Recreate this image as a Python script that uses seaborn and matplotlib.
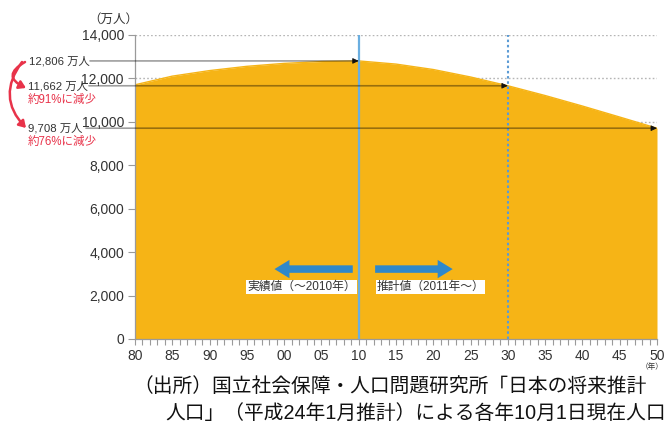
import numpy as np
import pandas as pd
import matplotlib
matplotlib.use("Agg")
import matplotlib.pyplot as plt
import matplotlib.transforms as mtransforms
from matplotlib.patches import FancyArrowPatch
import seaborn as sns

# Total population of Japan (10,000 persons), 1 October each year
years = [1980, 1985, 1990, 1995, 2000, 2005, 2010,
         2015, 2020, 2025, 2030, 2035, 2040, 2045, 2050]
population = [11706, 12105, 12361, 12557, 12693, 12777, 12806,
              12660, 12410, 12066, 11662, 11212, 10728, 10221, 9708]

y_ticks = [0, 2000, 4000, 6000, 8000, 10000, 12000, 14000]
y_tick_labels = ["0", "2,000", "4,000", "6,000", "8,000", "10,000", "12,000", "14,000"]
x_major = list(range(1980, 2051, 5))
x_tick_labels = ["80", "85", "90", "95", "00", "05", "10", "15", "20",
                 "25", "30", "35", "40", "45", "50"]

# Highlighted points: value, year, label, share of 2010 level
marks_years = [2010, 2030, 2050]
marks_values = [12806, 11662, 9708]
marks_labels = ["12,806 万人", "11,662 万人", "9,708 万人"]
marks_notes = ["", "約91%に減少", "約76%に減少"]

actual_label = "実績値（～2010年）"
projected_label = "推計値（2011年～）"
caption_1 = "（出所）国立社会保障・人口問題研究所「日本の将来推計"
caption_2 = "人口」（平成24年1月推計）による各年10月1日現在人口"

sns.set_theme(style="white")
plt.rcParams["font.family"] = ["Liberation Sans", "Noto Sans CJK JP", "DejaVu Sans"]

AREA = "#F6B416"
BLUE = "#2F88CA"
RED = "#E8334A"
TXT = "#333333"

df = pd.DataFrame({"year": years, "pop": population})

fig = plt.figure(figsize=(6.7, 4.26), dpi=100)
ax = fig.add_axes([135 / 670, 1 - 339 / 426, 522 / 670, 304 / 426])

# dotted gridlines behind the area
for yv in y_ticks[1:]:
    ax.axhline(yv, color="#b5b5b5", lw=1.0, ls=(0, (1.2, 1.6)), zorder=0)

ax.fill_between(df["year"], 0, df["pop"], color=AREA, lw=0, zorder=1)
sns.lineplot(data=df, x="year", y="pop", ax=ax, color=AREA, lw=1.0, zorder=2)

# boundary between actual and projected values
ax.plot([2010, 2010], [0, 14000], color="#6AAEE0", lw=1.6, zorder=3)
ax.plot([2030, 2030], [0, 14000], color="#5B9BD5", lw=1.5, ls=(0, (1.2, 1.3)), zorder=3)

ax.set_xlim(1980, 2050)
ax.set_ylim(0, 14000)
ax.set_xticks(x_major)
ax.set_xticklabels(x_tick_labels)
ax.set_xticks(range(1980, 2051), minor=True)
ax.set_yticks(y_ticks)
ax.set_yticklabels(y_tick_labels)
ax.set_xlabel("")
ax.set_ylabel("")
ax.tick_params(axis="x", which="both", direction="out", length=4, width=0.8,
               color="#9a9a9a", labelsize=10, labelcolor=TXT, pad=3, bottom=True)
ax.tick_params(axis="y", which="major", direction="out", length=5, width=0.8,
               color="#9a9a9a", labelsize=10, labelcolor=TXT, pad=3, left=True)
for side in ["top", "right"]:
    ax.spines[side].set_visible(False)
for side in ["left", "bottom"]:
    ax.spines[side].set_color("#9a9a9a")
    ax.spines[side].set_linewidth(0.9)
    ax.spines[side].set_zorder(4)

# reference lines from the left labels to each highlighted point
blend = mtransforms.blended_transform_factory(fig.transFigure, ax.transData)
line_starts = [90 / 670, 89 / 670, 86 / 670]
for yr, val, start in zip(marks_years, marks_values, line_starts):
    ax.annotate("", xy=(yr - 0.3, val), xycoords="data",
                xytext=(start, val), textcoords=blend,
                arrowprops=dict(arrowstyle="-", color=(0, 0, 0, 0.38), lw=1.2,
                                shrinkA=0, shrinkB=0),
                annotation_clip=False, zorder=5)
    ax.annotate("", xy=(yr, val), xycoords="data",
                xytext=(yr - 0.5, val), textcoords="data",
                arrowprops=dict(arrowstyle="-|>,head_length=0.3,head_width=0.14",
                                color="#111111", lw=0.6, shrinkA=0, shrinkB=0),
                annotation_clip=False, zorder=6)

label_x = [29 / 670, 28 / 670, 28 / 670]
for val, lab, note, lx in zip(marks_values, marks_labels, marks_notes, label_x):
    fig.text(lx, val, lab, transform=blend, ha="left", va="center",
             fontsize=8.2, color=TXT)
    if note:
        ax.annotate(note, xy=(lx, val), xycoords=blend, xytext=(0, -10),
                    textcoords="offset points", ha="left", va="center",
                    fontsize=8.3, color=RED, annotation_clip=False)

# red curved arrows showing the decline
def fig_pt(px, py):
    return (px / 670, 1 - py / 426)

for (p0, p1, rad) in [((25, 62), (26, 88), 0.95), ((22, 62), (26, 128), 0.42)]:
    arr = FancyArrowPatch(fig_pt(*p0), fig_pt(*p1), transform=fig.transFigure,
                          connectionstyle=f"arc3,rad={rad}",
                          arrowstyle="-|>,head_length=4,head_width=2.5",
                          color=RED, lw=1.8, shrinkA=0, shrinkB=0)
    fig.patches.append(arr)

# direction arrows for actual / projected periods
ax.annotate("", xy=(1998.7, 3220), xytext=(2009.2, 3220),
            arrowprops=dict(arrowstyle="simple,head_length=0.9,head_width=1.1,tail_width=0.45",
                            color=BLUE, lw=0, shrinkA=0, shrinkB=0), zorder=6)
ax.annotate("", xy=(2022.6, 3220), xytext=(2012.2, 3220),
            arrowprops=dict(arrowstyle="simple,head_length=0.9,head_width=1.1,tail_width=0.45",
                            color=BLUE, lw=0, shrinkA=0, shrinkB=0), zorder=6)
box = dict(boxstyle="square,pad=0.08", fc="white", ec="none")
ax.text(2009.6, 2400, actual_label, ha="right", va="center", fontsize=8.5,
        color=TXT, bbox=box, zorder=7)
ax.text(2012.4, 2400, projected_label, ha="left", va="center", fontsize=8.5,
        color=TXT, bbox=box, zorder=7)

# unit labels
fig.text(113 / 670, 1 - 20 / 426, "（万人）", ha="center", va="center",
         fontsize=9, color=TXT)
fig.text(652 / 670, 1 - 367 / 426, "（年）", ha="center", va="center",
         fontsize=5.5, color=TXT)

# source note
fig.text(133 / 670, 1 - 386 / 426, caption_1, ha="left", va="center",
         fontsize=14.2, color="#111111")
fig.text(666 / 670, 1 - 413 / 426, caption_2, ha="right", va="center",
         fontsize=14.2, color="#111111")

fig.savefig("out.png", dpi=100)
